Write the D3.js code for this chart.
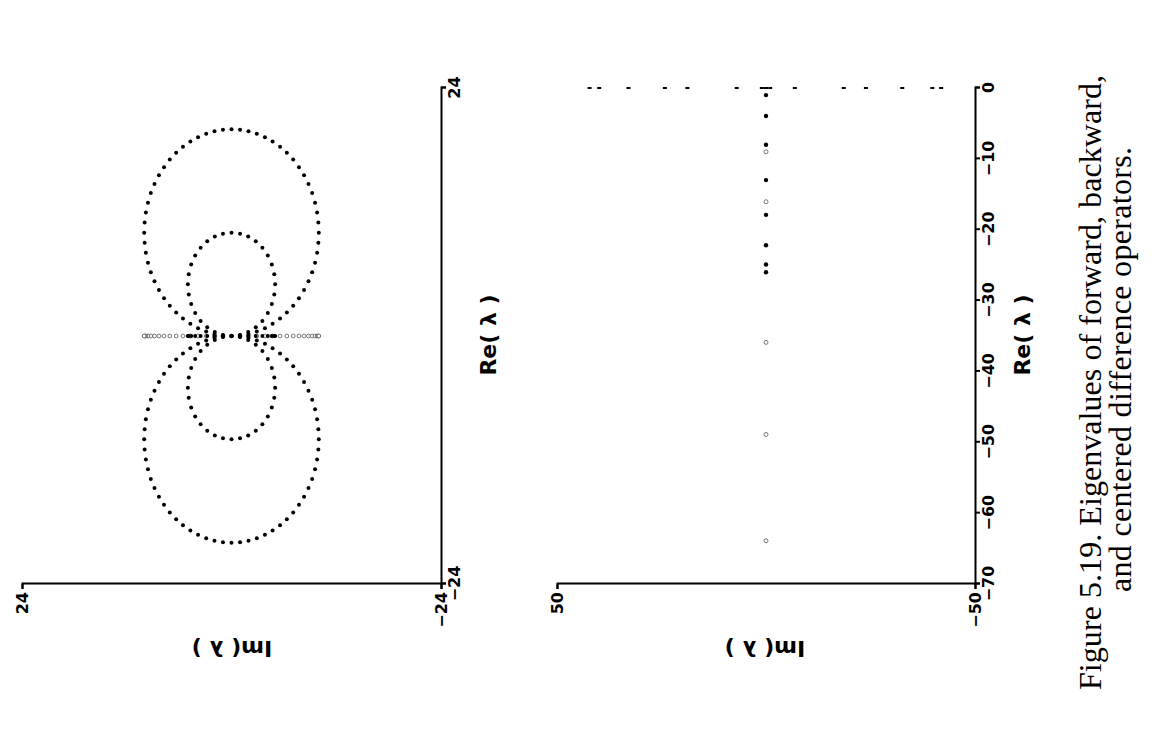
<!DOCTYPE html>
<html>
<head>
<meta charset="utf-8">
<title>Figure 5.19</title>
<script src="https://d3js.org/d3.v7.min.js"></script>
<style>
    body { margin: 0; background: #fff; }
    svg { display: block; background: #fff; }
    .axis path, .axis line { stroke: #000; stroke-width: 2; }
    .axis .tick text { font-family: 'DejaVu Sans', sans-serif; font-weight: bold; font-size: 16px; fill: #000; }
    .lab { font-family: 'DejaVu Sans', sans-serif; font-weight: bold; font-size: 22px; fill: #000; }
    .caption { font-family: 'Liberation Serif', 'Times New Roman', serif; font-size: 32px; fill: #000; }
    .open { fill: #fff; stroke: #555; stroke-width: 0.8; }
    .dot { fill: #000; }
</style>
</head>
<body>
<div id="chart"></div>
<script>
    const W = 1170, H = 736;

    // ---- top panel: periodic grid, h = 0.1 and h = 0.2 ([Re, Im]) ----
    const backwardFine = [[0,0],[0.05,0.98],[0.19,1.95],[0.43,2.9],[0.76,3.83],[1.18,4.71],[1.69,5.56],[2.27,6.34],[2.93,7.07],[3.66,7.73],[4.44,8.31],[5.29,8.82],[6.17,9.24],[7.1,9.57],[8.05,9.81],[9.02,9.95],[10,10],[10.98,9.95],[11.95,9.81],[12.9,9.57],[13.83,9.24],[14.71,8.82],[15.56,8.31],[16.34,7.73],[17.07,7.07],[17.73,6.34],[18.31,5.56],[18.82,4.71],[19.24,3.83],[19.57,2.9],[19.81,1.95],[19.95,0.98],[20,0],[19.95,-0.98],[19.81,-1.95],[19.57,-2.9],[19.24,-3.83],[18.82,-4.71],[18.31,-5.56],[17.73,-6.34],[17.07,-7.07],[16.34,-7.73],[15.56,-8.31],[14.71,-8.82],[13.83,-9.24],[12.9,-9.57],[11.95,-9.81],[10.98,-9.95],[10,-10],[9.02,-9.95],[8.05,-9.81],[7.1,-9.57],[6.17,-9.24],[5.29,-8.82],[4.44,-8.31],[3.66,-7.73],[2.93,-7.07],[2.27,-6.34],[1.69,-5.56],[1.18,-4.71],[0.76,-3.83],[0.43,-2.9],[0.19,-1.95],[0.05,-0.98]];
    const forwardFine = [[0,0],[-0.05,0.98],[-0.19,1.95],[-0.43,2.9],[-0.76,3.83],[-1.18,4.71],[-1.69,5.56],[-2.27,6.34],[-2.93,7.07],[-3.66,7.73],[-4.44,8.31],[-5.29,8.82],[-6.17,9.24],[-7.1,9.57],[-8.05,9.81],[-9.02,9.95],[-10,10],[-10.98,9.95],[-11.95,9.81],[-12.9,9.57],[-13.83,9.24],[-14.71,8.82],[-15.56,8.31],[-16.34,7.73],[-17.07,7.07],[-17.73,6.34],[-18.31,5.56],[-18.82,4.71],[-19.24,3.83],[-19.57,2.9],[-19.81,1.95],[-19.95,0.98],[-20,0],[-19.95,-0.98],[-19.81,-1.95],[-19.57,-2.9],[-19.24,-3.83],[-18.82,-4.71],[-18.31,-5.56],[-17.73,-6.34],[-17.07,-7.07],[-16.34,-7.73],[-15.56,-8.31],[-14.71,-8.82],[-13.83,-9.24],[-12.9,-9.57],[-11.95,-9.81],[-10.98,-9.95],[-10,-10],[-9.02,-9.95],[-8.05,-9.81],[-7.1,-9.57],[-6.17,-9.24],[-5.29,-8.82],[-4.44,-8.31],[-3.66,-7.73],[-2.93,-7.07],[-2.27,-6.34],[-1.69,-5.56],[-1.18,-4.71],[-0.76,-3.83],[-0.43,-2.9],[-0.19,-1.95],[-0.05,-0.98]];
    const backwardCoarse = [[0,0],[0.1,0.98],[0.38,1.91],[0.84,2.78],[1.46,3.54],[2.22,4.16],[3.09,4.62],[4.02,4.9],[5,5],[5.98,4.9],[6.91,4.62],[7.78,4.16],[8.54,3.54],[9.16,2.78],[9.62,1.91],[9.9,0.98],[10,0],[9.9,-0.98],[9.62,-1.91],[9.16,-2.78],[8.54,-3.54],[7.78,-4.16],[6.91,-4.62],[5.98,-4.9],[5,-5],[4.02,-4.9],[3.09,-4.62],[2.22,-4.16],[1.46,-3.54],[0.84,-2.78],[0.38,-1.91],[0.1,-0.98]];
    const forwardCoarse = [[0,0],[-0.1,0.98],[-0.38,1.91],[-0.84,2.78],[-1.46,3.54],[-2.22,4.16],[-3.09,4.62],[-4.02,4.9],[-5,5],[-5.98,4.9],[-6.91,4.62],[-7.78,4.16],[-8.54,3.54],[-9.16,2.78],[-9.62,1.91],[-9.9,0.98],[-10,0],[-9.9,-0.98],[-9.62,-1.91],[-9.16,-2.78],[-8.54,-3.54],[-7.78,-4.16],[-6.91,-4.62],[-5.98,-4.9],[-5,-5],[-4.02,-4.9],[-3.09,-4.62],[-2.22,-4.16],[-1.46,-3.54],[-0.84,-2.78],[-0.38,-1.91],[-0.1,-0.98]];
    // centered differences sit on the imaginary axis (Im values only)
    const centeredFineIm = [0,0.98,1.95,2.9,3.83,4.71,5.56,6.34,7.07,7.73,8.31,8.82,9.24,9.57,9.81,9.95,10,-0.98,-1.95,-2.9,-3.83,-4.71,-5.56,-6.34,-7.07,-7.73,-8.31,-8.82,-9.24,-9.57,-9.81,-9.95,-10];
    const centeredCoarseIm = [0,0.98,1.91,2.78,3.54,4.16,4.62,4.9,5,-0.98,-1.91,-2.78,-3.54,-4.16,-4.62,-4.9,-5];
    const topReTicks = [-24, 24];
    const topImTicks = [-24, 24];

    // ---- bottom panel: non-periodic grid ----
    const centeredIm = [42.2, 39.9, 32.9, 24.2, 18.8, 7.0, 1.0, 0, -1.0, -6.9, -18.6, -23.9, -32.6, -39.8, -41.9];
    const filledRe = [-1.0, -3.95, -8.0, -13.0, -17.9, -22.2, -24.9, -26.0];
    const openRe = [-9.0, -16.05, -35.9, -48.9, -63.9];
    const botReTicks = [-70, -60, -50, -40, -30, -20, -10, 0];
    const botImTicks = [-50, 50];

    const caption1 = 'Figure 5.19.  Eigenvalues of forward, backward,';
    const caption2 = 'and centered difference operators.';

    const svg = d3.select('#chart').append('svg').attr('width', W).attr('height', H);
    // the page is printed sideways: draw it upright and turn it a quarter left
    const page = svg.append('g').attr('transform', `translate(0,${H}) rotate(-90)`);

    function drawFrame(x, y, reTicks, imTicks, axisV, labelV, labelImV) {
        page.append('g').attr('class', 'axis')
            .attr('transform', `translate(0,${axisV})`)
            .call(d3.axisBottom(x).tickValues(reTicks).tickSize(5).tickPadding(3));
        page.append('g').attr('class', 'axis')
            .attr('transform', `translate(152,0)`)
            .call(d3.axisLeft(y).tickValues(imTicks).tickSize(5).tickPadding(3));
        page.append('text').attr('class', 'lab')
            .attr('x', 401).attr('y', labelV).attr('dy', '0.35em')
            .attr('text-anchor', 'middle')
            .text('Re( λ )');
        page.append('text').attr('class', 'lab')
            .attr('transform', `translate(87,${labelImV}) rotate(-90)`)
            .attr('dy', '0.35em')
            .attr('text-anchor', 'middle')
            .text('Im( λ )');
    }

    function dots(data, x, y, cls, r) {
        page.append('g').selectAll('circle')
            .data(data)
            .join('circle')
            .attr('class', cls)
            .attr('cx', d => x(d[0]))
            .attr('cy', d => y(d[1]))
            .attr('r', r);
    }

    // top panel
    const xTop = d3.scaleLinear().domain([-24, 24]).range([152, 648]);
    const yTop = d3.scaleLinear().domain([-24, 24]).range([441, 22]);
    drawFrame(xTop, yTop, topReTicks, topImTicks, 441, 488, 232);
    dots(centeredFineIm.map(v => [0, v]), xTop, yTop, 'open', 1.9);
    dots(backwardFine, xTop, yTop, 'dot', 2);
    dots(forwardFine, xTop, yTop, 'dot', 2);
    dots(backwardCoarse, xTop, yTop, 'dot', 2);
    dots(forwardCoarse, xTop, yTop, 'dot', 2);
    dots(centeredCoarseIm.map(v => [0, v]), xTop, yTop, 'dot', 2);

    // bottom panel
    const xBot = d3.scaleLinear().domain([-70, 0]).range([152, 648]);
    const yBot = d3.scaleLinear().domain([-50, 50]).range([975, 557]);
    drawFrame(xBot, yBot, botReTicks, botImTicks, 975, 1022, 765);
    page.append('g').selectAll('rect')
        .data(centeredIm)
        .join('rect')
        .attr('x', xBot(0) - 1)
        .attr('y', d => yBot(d) - 2)
        .attr('width', 2)
        .attr('height', 4)
        .attr('fill', '#000');
    dots(openRe.map(v => [v, 0]), xBot, yBot, 'open', 2);
    dots(filledRe.map(v => [v, 0]), xBot, yBot, 'dot', 2.2);

    // caption
    page.append('text').attr('class', 'caption')
        .attr('x', 46).attr('y', 1101)
        .attr('textLength', 615).attr('lengthAdjust', 'spacing')
        .text(caption1);
    page.append('text').attr('class', 'caption')
        .attr('x', 144).attr('y', 1131)
        .attr('textLength', 445).attr('lengthAdjust', 'spacing')
        .text(caption2);
</script>
</body>
</html>
